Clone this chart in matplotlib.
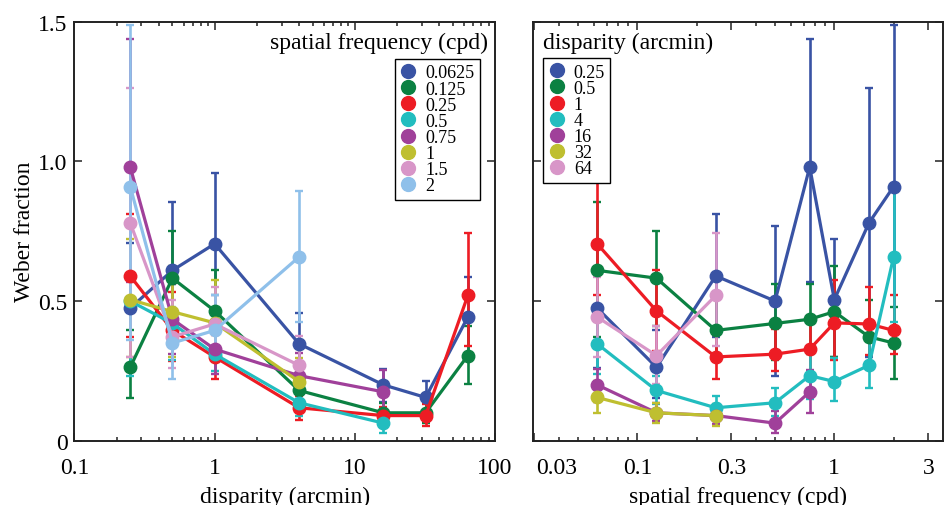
import numpy as np
import matplotlib
matplotlib.use("Agg")
import matplotlib.pyplot as plt
import matplotlib.transforms as mtransforms
from matplotlib.lines import Line2D
from matplotlib.ticker import FixedLocator, FixedFormatter, NullFormatter, LogLocator

plt.rcParams["font.family"] = ["Liberation Serif", "DejaVu Serif"]

disparity = [0.25, 0.5, 1, 4, 16, 32, 64]
disp_labels = ["0.25", "0.5", "1", "4", "16", "32", "64"]
spatial_freq = [0.0625, 0.125, 0.25, 0.5, 0.75, 1, 1.5, 2]
sf_labels = ["0.0625", "0.125", "0.25", "0.5", "0.75", "1", "1.5", "2"]

nan = np.nan
# Weber fraction; rows = spatial frequency, columns = disparity
weber = np.array([
    [0.475, 0.610, 0.705, 0.347, 0.200, 0.155, 0.443],
    [0.263, 0.582, 0.465, 0.180, 0.100, 0.100, 0.305],
    [0.590, 0.395, 0.300, 0.118, 0.090, 0.090, 0.520],
    [0.500, 0.420, 0.310, 0.136, 0.063, nan,   nan],
    [0.980, 0.435, 0.328, 0.233, 0.175, nan,   nan],
    [0.505, 0.462, 0.422, 0.212, nan,   nan,   nan],
    [0.780, 0.372, 0.418, 0.270, nan,   nan,   nan],
    [0.910, 0.350, 0.395, 0.658, nan,   nan,   nan],
])
# lower / upper ends of the error bars
weber_lo = np.array([
    [0.260, 0.370, 0.520, 0.240, 0.140, 0.100, 0.300],
    [0.153, 0.410, 0.320, 0.130, 0.070, 0.065, 0.203],
    [0.371, 0.287, 0.221, 0.075, 0.060, 0.052, 0.339],
    [0.230, 0.290, 0.248, 0.090, 0.028, nan,   nan],
    [0.570, 0.310, 0.239, 0.150, 0.100, nan,   nan],
    [0.300, 0.300, 0.290, 0.143, nan,   nan,   nan],
    [0.300, 0.260, 0.307, 0.190, nan,   nan,   nan],
    [0.360, 0.221, 0.310, 0.426, nan,   nan,   nan],
])
weber_hi = np.array([
    [0.709, 0.855, 0.957, 0.458, 0.257, 0.215, 0.588],
    [0.395, 0.750, 0.610, 0.230, 0.135, 0.135, 0.410],
    [0.810, 0.534, 0.380, 0.160, 0.120, 0.130, 0.742],
    [0.770, 0.560, 0.400, 0.190, 0.105, nan,   nan],
    [1.438, 0.560, 0.420, 0.313, 0.254, nan,   nan],
    [0.723, 0.625, 0.574, 0.295, nan,   nan,   nan],
    [1.264, 0.504, 0.550, 0.374, nan,   nan,   nan],
    [1.490, 0.480, 0.520, 0.893, nan,   nan,   nan],
])

colors = ["#3953a4", "#0b8142", "#ed1c24", "#22bdbf",
          "#a0409a", "#bfbf30", "#d896c8", "#8fc0ea"]


def draw_series(ax, x, y, lo, hi, color):
    x = np.asarray(x, dtype=float)
    ok = ~np.isnan(y)
    x, y, lo, hi = x[ok], y[ok], lo[ok], hi[ok]
    ax.errorbar(x, y, yerr=[y - lo, hi - y], color=color, lw=2.3,
                marker="o", ms=9, elinewidth=1.9, capsize=3, capthick=1.7)


def style_axes(ax):
    ax.set_xscale("log")
    ax.set_ylim(0, 1.5)
    ax.set_yticks([0, 0.5, 1.0, 1.5])
    ax.tick_params(which="both", direction="in", top=True, right=True,
                   labelsize=17, width=1.1, color="#222222")
    ax.tick_params(which="major", length=6)
    ax.tick_params(which="minor", length=3)
    ax.tick_params(axis="x", which="major", pad=11.5)
    ax.tick_params(axis="y", which="major", pad=5)
    for sp in ax.spines.values():
        sp.set_linewidth(1.4)
        sp.set_color("#222222")


def add_legend(ax, labels, cols, anchor):
    handles = [Line2D([], [], ls="none", marker="o", ms=10, color=c) for c in cols]
    leg = ax.legend(handles, labels, loc="upper left", bbox_to_anchor=anchor,
                    borderaxespad=0, fontsize=13, handlelength=0.9,
                    handletextpad=0.5, labelspacing=-0.05, borderpad=0.3,
                    fancybox=False, framealpha=1, edgecolor="black")
    leg.get_frame().set_linewidth(1.0)


fig = plt.figure(figsize=(9.45, 5.06), dpi=100)
ax_l = fig.add_axes([0.0788, 0.127, 0.445, 0.828])
ax_r = fig.add_axes([0.5643, 0.127, 0.434, 0.828])

# left panel: x = disparity, one line per spatial frequency
for i in range(len(spatial_freq)):
    draw_series(ax_l, disparity, weber[i], weber_lo[i], weber_hi[i], colors[i])
style_axes(ax_l)
ax_l.set_xlim(0.1, 100)
ax_l.set_yticklabels(["0", "0.5", "1.0", "1.5"])
ax_l.xaxis.set_major_locator(FixedLocator([0.1, 1, 10, 100]))
ax_l.xaxis.set_major_formatter(FixedFormatter(["0.1", "1", "10", "100"]))
ax_l.xaxis.set_minor_locator(LogLocator(base=10, subs=np.arange(2, 10)))
ax_l.xaxis.set_minor_formatter(NullFormatter())
ax_l.set_xlabel("disparity (arcmin)", fontsize=17, labelpad=5.5)
ax_l.set_ylabel("Weber fraction", fontsize=17, labelpad=2.5)
ax_l.text(0.983, 0.951, "spatial frequency (cpd)", transform=ax_l.transAxes,
          ha="right", va="center", fontsize=17)
add_legend(ax_l, sf_labels, colors, (0.762, 0.911))

# right panel: x = spatial frequency, one line per disparity
for j in range(len(disparity)):
    draw_series(ax_r, spatial_freq, weber[:, j], weber_lo[:, j], weber_hi[:, j], colors[j])
style_axes(ax_r)
ax_r.set_xlim(0.0296, 3.58)
ax_r.set_yticklabels([])
ax_r.xaxis.set_major_locator(FixedLocator([0.03, 0.1, 0.3, 1, 3]))
ax_r.xaxis.set_major_formatter(FixedFormatter(["0.03", "0.1", "0.3", "1", "3"]))
ax_r.xaxis.set_minor_locator(LogLocator(base=10, subs=np.arange(2, 10)))
ax_r.xaxis.set_minor_formatter(NullFormatter())
ax_r.set_xlabel("spatial frequency (cpd)", fontsize=17, labelpad=5.5)
ax_r.text(0.024, 0.951, "disparity (arcmin)", transform=ax_r.transAxes,
          ha="left", va="center", fontsize=17)
add_legend(ax_r, disp_labels, colors[:7], (0.024, 0.913))

# the first label of the right panel sits a little to the right of its tick
shift = mtransforms.ScaledTranslation(22 / 100, 0, fig.dpi_scale_trans)
first = ax_r.get_xticklabels()[0]
first.set_transform(first.get_transform() + shift)

fig.savefig("out.png", dpi=100)
